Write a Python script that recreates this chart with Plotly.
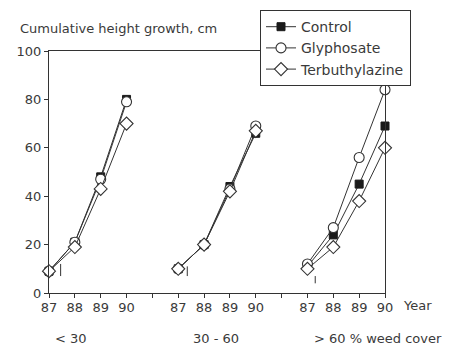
import plotly.graph_objects as go

# ---- data ----
groups = ["< 30", "30 - 60", "> 60 % weed cover"]
years = ["87", "88", "89", "90"]
control = [[9, 21, 48, 80], [10, 20, 44, 66], [11, 24, 45, 69]]
glyphosate = [[9, 21, 47, 79], [10, 20, 43, 69], [12, 27, 56, 84]]
terbuthylazine = [[9, 19, 43, 70], [10, 20, 42, 67], [10, 19, 38, 60]]
# small vertical marks near start of each group: (year offset, y low, y high)
mark_offset = [0.45, 0.35, 0.3]
mark_low = [7, 7, 4]
mark_high = [12, 11, 7]

FONT = "DejaVu Sans"
TXT = "#3a3a3a"
LINE = "#333333"

def positions():
    xs = []
    for g in range(len(groups)):
        if g > 0:
            xs.append(None)
        xs.extend([g * 5 + i for i in range(len(years))])
    return xs

def flatten(series):
    ys = []
    for g, vals in enumerate(series):
        if g > 0:
            ys.append(None)
        ys.extend(vals)
    return ys

xs = positions()
fig = go.Figure()

styles = [
    ("Control", control, dict(symbol="square", size=8, color="#1a1a1a", line=dict(color="#1a1a1a", width=1))),
    ("Glyphosate", glyphosate, dict(symbol="circle", size=10, color="white", line=dict(color="#333", width=1.1))),
    ("Terbuthylazine", terbuthylazine, dict(symbol="diamond", size=10, color="white", line=dict(color="#333", width=1.1))),
]
for name, series, mk in styles:
    fig.add_trace(go.Scatter(
        x=xs, y=flatten(series), mode="lines+markers", name=name,
        line=dict(color=LINE, width=1), marker=mk, cliponaxis=False,
    ))

for g in range(len(groups)):
    fig.add_shape(type="line", xref="x", yref="y",
                  x0=g * 5 + mark_offset[g], x1=g * 5 + mark_offset[g],
                  y0=mark_low[g], y1=mark_high[g],
                  line=dict(color=LINE, width=1))

tickvals = list(range(0, 14))
ticktext = []
for v in tickvals:
    if v % 5 == 4:
        ticktext.append("")
    else:
        ticktext.append(years[v % 5])

fig.update_xaxes(range=[0, 13], tickvals=tickvals, ticktext=ticktext,
                 showline=True, linecolor=LINE, linewidth=1, mirror=True,
                 ticks="outside", ticklen=4, tickcolor=LINE, showgrid=False,
                 ticklabelstandoff=-2,
                 zeroline=False, tickfont=dict(family=FONT, size=13, color=TXT))
fig.update_yaxes(range=[0, 100], tickvals=[0, 20, 40, 60, 80, 100],
                 showline=True, linecolor=LINE, linewidth=1, mirror=True,
                 ticks="outside", ticklen=4, tickcolor=LINE, showgrid=False,
                 zeroline=False, tickfont=dict(family=FONT, size=13, color=TXT))

ann = [
    dict(text="Cumulative height growth, cm", xref="paper", yref="paper",
         x=-0.092, y=1.091, xanchor="left", yanchor="middle", showarrow=False),
    dict(text="Year", xref="x", yref="paper", x=13, xshift=16, y=-0.05,
         xanchor="left", yanchor="middle", showarrow=False),
    dict(text=groups[0], xref="x", yref="paper", x=0.86, y=-0.186,
         xanchor="center", yanchor="middle", showarrow=False),
    dict(text=groups[1], xref="x", yref="paper", x=6.46, y=-0.186,
         xanchor="center", yanchor="middle", showarrow=False),
    dict(text=groups[2], xref="x", yref="paper", x=10.18, y=-0.186,
         xanchor="left", yanchor="middle", showarrow=False),
]
for a in ann:
    a["font"] = dict(family=FONT, size=13, color=TXT)

# page body has an 8px margin, so the figure is offset by 8px; compensate
fig.update_layout(
    width=452, height=345,
    margin=dict(l=41, r=75, t=43, b=60, autoexpand=False),
    paper_bgcolor="white", plot_bgcolor="white",
    annotations=ann,
    showlegend=True,
    legend=dict(x=0.628, y=1.169, xanchor="left", yanchor="top",
                bgcolor="white", bordercolor=LINE, borderwidth=1,
                font=dict(family=FONT, size=14, color=TXT),
                tracegroupgap=0, itemwidth=30),
)

fig.write_html("out.html")
